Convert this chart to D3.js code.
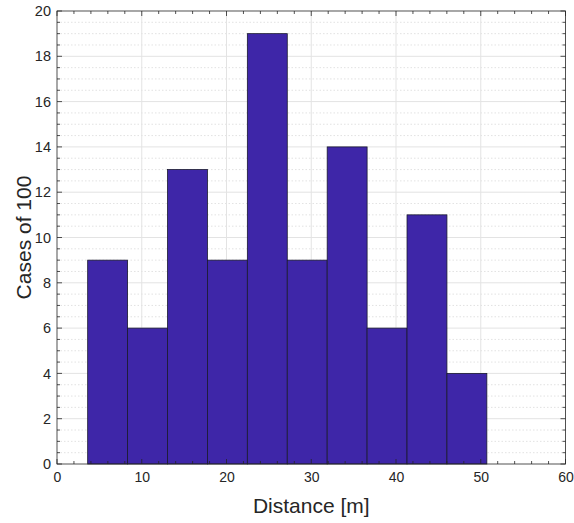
<!DOCTYPE html>
<html>
<head>
<meta charset="utf-8">
<script src="https://cdn.jsdelivr.net/npm/d3@7"></script>
<style>
  body { margin: 0; background: #fff; }
  text { font-family: "Liberation Sans", Arial, sans-serif; fill: #262626; }
</style>
</head>
<body>
<div id="chart"></div>
<script>
// histogram bins (edges) and counts
const binStart = 3.62;
const binWidth = 4.71;
const counts = [9, 6, 13, 9, 19, 9, 14, 6, 11, 4];
const xTicks = [0, 10, 20, 30, 40, 50, 60];
const yTicks = [0, 2, 4, 6, 8, 10, 12, 14, 16, 18, 20];

const w = 574, h = 523;
const m = { left: 57, right: 8.5, top: 11, bottom: 59 };

const svg = d3.select('#chart').append('svg')
  .attr('width', w)
  .attr('height', h);

const x = d3.scaleLinear().domain([0, 60]).range([m.left, w - m.right]);
const y = d3.scaleLinear().domain([0, 20]).range([h - m.bottom, m.top]);

const bins = counts.map((c, i) => ({ x0: binStart + i * binWidth, x1: binStart + (i + 1) * binWidth, n: c }));

// minor grid (horizontal, dotted)
const yMinor = d3.range(0, 20.01, 0.5).filter(v => v % 2 !== 0);
svg.append('g').selectAll('line').data(yMinor).enter().append('line')
  .attr('x1', x(0)).attr('x2', x(60))
  .attr('y1', d => y(d)).attr('y2', d => y(d))
  .attr('stroke', '#dadada').attr('stroke-width', 0.8)
  .attr('stroke-dasharray', '1.5,2');

// major grid
svg.append('g').selectAll('line').data(yTicks.slice(1, -1)).enter().append('line')
  .attr('x1', x(0)).attr('x2', x(60))
  .attr('y1', d => y(d)).attr('y2', d => y(d))
  .attr('stroke', '#e3e3e3');
svg.append('g').selectAll('line').data(xTicks.slice(1, -1)).enter().append('line')
  .attr('y1', y(0)).attr('y2', y(20))
  .attr('x1', d => x(d)).attr('x2', d => x(d))
  .attr('stroke', '#e3e3e3');

// bars
svg.append('g').selectAll('rect').data(bins).enter().append('rect')
  .attr('x', d => x(d.x0))
  .attr('width', d => x(d.x1) - x(d.x0))
  .attr('y', d => y(d.n))
  .attr('height', d => y(0) - y(d.n))
  .attr('fill', '#3e26a8')
  .attr('stroke', '#1a1a2e')
  .attr('stroke-width', 0.8);

// axes
const xMinor = d3.range(0, 60.01, 2);
const yMinorAll = d3.range(0, 20.01, 0.5);

svg.append('g')
  .attr('transform', `translate(0,${y(0)})`)
  .call(d3.axisBottom(x).tickValues(xTicks).tickSize(0).tickPadding(8))
  .call(g => g.select('.domain').remove())
  .call(g => g.selectAll('text').attr('font-size', 14));

svg.append('g')
  .attr('transform', `translate(${x(0)},0)`)
  .call(d3.axisLeft(y).tickValues(yTicks).tickSize(0).tickPadding(6))
  .call(g => g.select('.domain').remove())
  .call(g => g.selectAll('text').attr('font-size', 14.5));

// tick marks on all four sides
const tk = svg.append('g').attr('stroke', '#262626').attr('stroke-width', 0.8);
xMinor.forEach(v => {
  const len = xTicks.includes(v) ? 5 : 3;
  tk.append('line').attr('x1', x(v)).attr('x2', x(v)).attr('y1', y(0)).attr('y2', y(0) - len);
  tk.append('line').attr('x1', x(v)).attr('x2', x(v)).attr('y1', y(20)).attr('y2', y(20) + len);
});
yMinorAll.forEach(v => {
  const len = yTicks.includes(v) ? 5 : 3;
  tk.append('line').attr('y1', y(v)).attr('y2', y(v)).attr('x1', x(0)).attr('x2', x(0) + len);
  tk.append('line').attr('y1', y(v)).attr('y2', y(v)).attr('x1', x(60)).attr('x2', x(60) - len);
});

// box
svg.append('rect')
  .attr('x', x(0)).attr('y', y(20))
  .attr('width', x(60) - x(0)).attr('height', y(0) - y(20))
  .attr('fill', 'none').attr('stroke', '#262626').attr('stroke-width', 0.8);

// labels
svg.append('text')
  .attr('x', (x(0) + x(60)) / 2)
  .attr('y', 513)
  .attr('text-anchor', 'middle')
  .attr('font-size', 21)
  .text('Distance [m]');

svg.append('text')
  .attr('transform', 'rotate(-90)')
  .attr('x', -(y(0) + y(20)) / 2)
  .attr('y', 31)
  .attr('text-anchor', 'middle')
  .attr('font-size', 21)
  .text('Cases of 100');
</script>
</body>
</html>
